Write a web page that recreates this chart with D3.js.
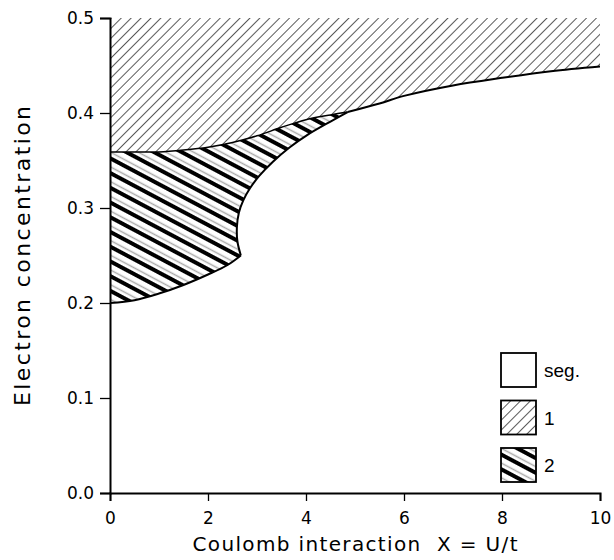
<!DOCTYPE html>
<html><head><meta charset="utf-8">
<script src="https://cdn.jsdelivr.net/npm/d3@7"></script>
<style>body{margin:0;background:#fff} text{white-space:pre}</style>
</head><body>
<svg id="c" width="614" height="560"></svg>
<script>
// ---- data ----
const xTicks = [0, 2, 4, 6, 8, 10];
const yTicks = [0.0, 0.1, 0.2, 0.3, 0.4, 0.5];
// boundary between phase 1 (top) and phase 2, from the y-axis to where the curves merge
const upper2X = [0, 0.5, 1, 1.5, 2, 2.5, 3, 3.5, 4, 4.5, 4.85];
const upper2Y = [0.359, 0.359, 0.359, 0.361, 0.364, 0.369, 0.376, 0.385, 0.393, 0.398, 0.401];
// lower edge of phase 2, from the y-axis to the cusp
const lower2X = [0, 0.5, 1, 1.5, 2, 2.4, 2.67];
const lower2Y = [0.2, 0.203, 0.21, 0.219, 0.23, 0.24, 0.25];
// right edge of phase 2, from the cusp up to the merge point
const right2X = [2.67, 2.6, 2.59, 2.63, 2.72, 2.86, 3.05, 3.33, 3.67, 4.0, 4.5, 4.85];
const right2Y = [0.25, 0.265, 0.28, 0.295, 0.308, 0.321, 0.334, 0.349, 0.364, 0.376, 0.391, 0.401];
// phase 1 / segregation boundary beyond the merge point
const mainX = [4.85, 5.5, 6, 7, 8, 9, 10];
const mainY = [0.401, 0.41, 0.418, 0.429, 0.437, 0.444, 0.449];
const legendLabels = ["seg.", "1", "2"];

const zip = (xs, ys) => xs.map((x, i) => [x, ys[i]]);
const upper2 = zip(upper2X, upper2Y);
const lower2 = zip(lower2X, lower2Y);
const right2 = zip(right2X, right2Y);
const main = zip(mainX, mainY);

const svg = d3.select("#c");
const x = d3.scaleLinear().domain([0, 10]).range([110, 600]);
const y = d3.scaleLinear().domain([0, 0.5]).range([493, 18]);

const defs = svg.append("defs");
const p1 = defs.append("pattern").attr("id", "h1").attr("patternUnits", "userSpaceOnUse")
  .attr("width", 7).attr("height", 7).attr("patternTransform", "rotate(45)");
p1.append("line").attr("x1", 0).attr("y1", 0).attr("x2", 0).attr("y2", 7)
  .attr("stroke", "#000").attr("stroke-width", 1.3);
const p2 = defs.append("pattern").attr("id", "h2").attr("patternUnits", "userSpaceOnUse")
  .attr("width", 13).attr("height", 13).attr("patternTransform", "rotate(-62)");
p2.append("line").attr("x1", 3).attr("y1", 0).attr("x2", 3).attr("y2", 13)
  .attr("stroke", "#000").attr("stroke-width", 4);
p2.append("line").attr("x1", 8.5).attr("y1", 0).attr("x2", 8.5).attr("y2", 13)
  .attr("stroke", "#aaa").attr("stroke-width", 1.5);

const line = d3.line().x(d => x(d[0])).y(d => y(d[1])).curve(d3.curveCatmullRom.alpha(0.5));
const seg = pts => line(pts);
const cont = pts => line(pts).replace(/^M/, "L");

// region 1
const r1 = `M${x(0)},${y(0.5)}L${x(10)},${y(0.5)}` + cont(main.slice().reverse()) + cont(upper2.slice().reverse()) + "Z";
svg.append("path").attr("d", r1).attr("fill", "url(#h1)");
// region 2
const r2 = seg(lower2) + cont(right2) + cont(upper2.slice().reverse()) + "Z";
svg.append("path").attr("d", r2).attr("fill", "url(#h2)");

// boundaries
svg.append("path").attr("d", seg(upper2)).attr("fill", "none").attr("stroke", "#000").attr("stroke-width", 1.5);
svg.append("path").attr("d", seg(lower2)).attr("fill", "none").attr("stroke", "#000").attr("stroke-width", 2);
svg.append("path").attr("d", seg(right2)).attr("fill", "none").attr("stroke", "#000").attr("stroke-width", 2);
svg.append("path").attr("d", seg(main)).attr("fill", "none").attr("stroke", "#000").attr("stroke-width", 2);

// axes
const font = "'DejaVu Sans', sans-serif";
const gx = svg.append("g").attr("transform", `translate(0,${y(0)})`)
  .call(d3.axisBottom(x).tickValues(xTicks).tickSize(8).tickPadding(11).tickFormat(d3.format("d")));
const gy = svg.append("g").attr("transform", `translate(${x(0)},0)`)
  .call(d3.axisLeft(y).tickValues(yTicks).tickSize(10).tickPadding(6).tickFormat(d3.format(".1f")));
[gx, gy].forEach(g => {
  g.select(".domain").attr("stroke", "#000").attr("stroke-width", 2);
  g.selectAll(".tick line").attr("stroke", "#000").attr("stroke-width", 1.3);
  g.selectAll(".tick text").attr("font-family", font).attr("font-size", 17).attr("fill", "#000");
});

svg.append("text").attr("x", 355).attr("y", 551).attr("text-anchor", "middle")
  .attr("font-family", font).attr("font-size", 20)
  .attr("textLength", 325).attr("lengthAdjust", "spacing")
  .text("Coulomb interaction  X = U/t");
svg.append("text").attr("transform", "translate(30,256) rotate(-90)").attr("text-anchor", "middle")
  .attr("font-family", font).attr("font-size", 22)
  .attr("textLength", 300).attr("lengthAdjust", "spacing")
  .text("Electron concentration");

// legend
const fills = ["#fff", "url(#h1)", "url(#h2)"];
const lg = svg.append("g");
legendLabels.forEach((lab, i) => {
  const yy = 353 + i * 47.5;
  lg.append("rect").attr("x", 501).attr("y", yy).attr("width", 35).attr("height", 34)
    .attr("fill", fills[i]).attr("stroke", "#000").attr("stroke-width", 1.8);
  lg.append("text").attr("x", 544).attr("y", yy + 24).attr("font-family", "'Liberation Sans', Arial, sans-serif")
    .attr("font-size", 19).text(lab);
});
</script>
</body></html>
